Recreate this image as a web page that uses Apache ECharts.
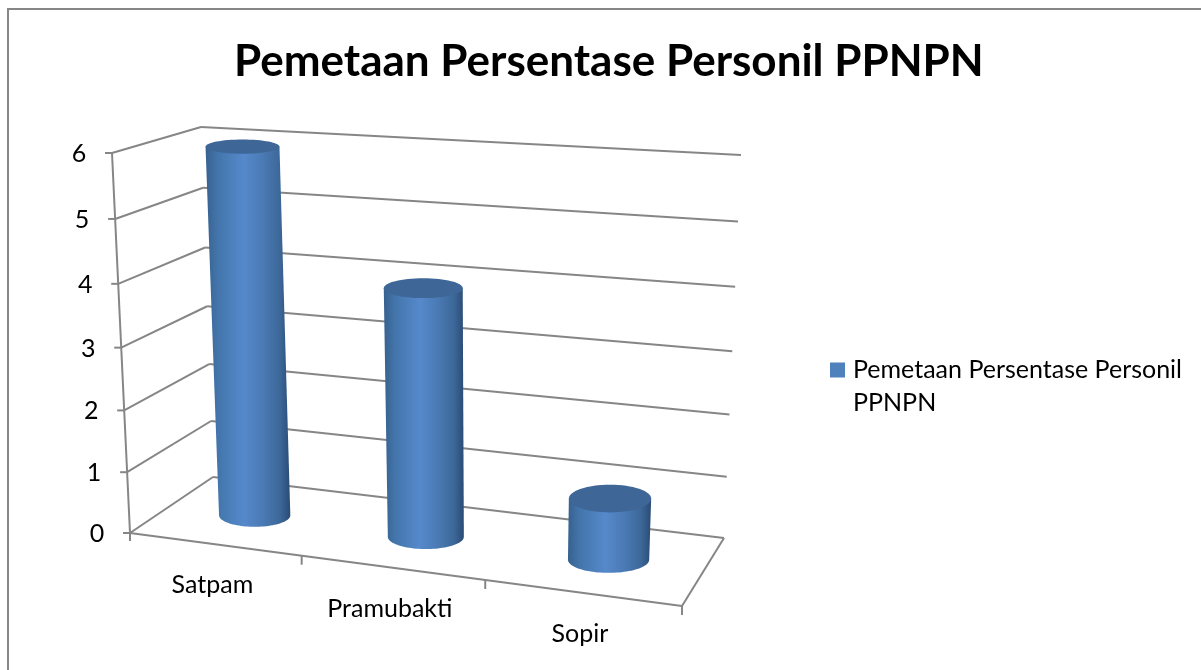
<!DOCTYPE html>
<html>
<head>
<meta charset="utf-8">
<style>html,body{margin:0;padding:0;background:#fff}#c{width:1201px;height:670px}</style>
<script src="https://cdn.jsdelivr.net/npm/echarts@6/dist/echarts.min.js"></script>
</head>
<body>
<div id="c"></div>
<script>
const chartTitle = 'Pemetaan Persentase Personil PPNPN';
const seriesName = 'Pemetaan Persentase Personil PPNPN';
const categories = ['Satpam', 'Pramubakti', 'Sopir'];
const values = [6, 4, 1];
const valueTicks = [0, 1, 2, 3, 4, 5, 6];

const FONT = 'Lato';
const GREY = '#868686';
const GRID = { left: 100, top: 100, width: 600, height: 400 };

// Corners of the floor and ceiling of the 3D box on the page: [front-left, front-right, back-right, back-left]
const FLOOR = [[130, 533], [682, 606], [724, 538], [213, 477]];
const CEIL = [[112, 153], [700, 188], [741, 155], [201, 127]];

function homography(q) {
  const [[x0, y0], [x1, y1], [x2, y2], [x3, y3]] = q;
  const dx1 = x1 - x2, dx2 = x3 - x2, sx = x0 - x1 + x2 - x3;
  const dy1 = y1 - y2, dy2 = y3 - y2, sy = y0 - y1 + y2 - y3;
  const den = dx1 * dy2 - dx2 * dy1;
  const g = (sx * dy2 - dx2 * sy) / den;
  const h = (dx1 * sy - sx * dy1) / den;
  const a = x1 - x0 + g * x1, b = x3 - x0 + h * x3;
  const d = y1 - y0 + g * y1, e = y3 - y0 + h * y3;
  return (u, v) => {
    const w = g * u + h * v + 1;
    return [(a * u + b * v + x0) / w, (d * u + e * v + y0) / w];
  };
}
const floorH = homography(FLOOR);
const ceilH = homography(CEIL);

// u: across categories 0..1, d: depth 0..1, t: height 0..1
function project(u, d, t) {
  const k = 1.05;
  const tt = t / (k - (k - 1) * t);
  const a = floorH(u, d), b = ceilH(u, d);
  return [a[0] + (b[0] - a[0]) * tt, a[1] + (b[1] - a[1]) * tt];
}
// Converts ECharts scale output (pixel in hidden grid) to box fractions
function fracs(px) {
  return [(px[0] - GRID.left) / GRID.width, (GRID.top + GRID.height - px[1]) / GRID.height];
}
const lineStyle = { stroke: GREY, lineWidth: 2, fill: null };
function seg(a, b) {
  return { type: 'line', shape: { x1: a[0], y1: a[1], x2: b[0], y2: b[1] }, style: lineStyle, silent: true };
}
function label(text, p) {
  return { type: 'text', style: { text, x: p[0], y: p[1], align: 'center', verticalAlign: 'middle',
    font: '25px ' + FONT, fill: '#000' }, silent: true };
}

function renderValueTick(params, api) {
  const v = api.value(0);
  const t = fracs(api.coord([0, v]))[1];
  const fl = project(0, 0, t), bl = project(0, 1, t), br = project(1, 1, t);
  const children = [
    seg(fl, bl), seg(bl, br),
    seg([fl[0] - 7, fl[1]], fl),
    label(String(valueTicks[params.dataIndex]), [fl[0] - 33, fl[1] + 1])
  ];
  if (v === 0) {
    children.push(seg(project(0, 0, 0), project(1, 0, 0)));
    children.push(seg(project(1, 0, 0), project(1, 1, 0)));
    children.push(seg(project(0, 0, 0), project(0, 0, 1)));
    children.push(seg(fl, [fl[0], fl[1] + 8]));
  }
  return { type: 'group', children };
}

function renderCategory(params, api) {
  const band = api.size([1, 0])[0] / GRID.width;
  const u = fracs(api.coord([params.dataIndex, 0]))[0];
  const tickP = project(u + band / 2, 0, 0);
  const mid = project(u, 0, 0);
  return { type: 'group', children: [
    seg(tickP, [tickP[0], tickP[1] + 9]),
    label(categories[params.dataIndex], [mid[0] - 2, mid[1] + 41])
  ] };
}

function renderCylinder(params, api) {
  const idx = api.value(0), val = api.value(1);
  const band = api.size([1, 0])[0] / GRID.width;
  const u = fracs(api.coord([idx, 0]))[0];
  const t = fracs(api.coord([idx, val]))[1];
  const RU = 0.215 * band, RD = 0.2, D = 0.48, SHIFT = 1.5;
  const ell = (tt, extra, dy) => {
    const c = project(u, D, tt);
    const l = project(u - RU, D, tt), r = project(u + RU, D, tt);
    const fr = project(u, D - RD, tt), bk = project(u, D + RD, tt);
    return { cx: c[0] + SHIFT, cy: c[1] + dy, rx: (r[0] - l[0]) / 2, ry: (fr[1] - bk[1]) / 2 + extra };
  };
  const bot = ell(0, 0, 0), top = ell(t, 1.8, 2);
  const pts = [[top.cx - top.rx, top.cy]];
  for (let i = 0; i <= 48; i++) {
    const a = Math.PI - Math.PI * i / 48;
    pts.push([bot.cx + bot.rx * Math.cos(a), bot.cy + bot.ry * Math.sin(a)]);
  }
  pts.push([top.cx + top.rx, top.cy]);
  const grad = { type: 'linear', x: 0, y: 0, x2: 1, y2: 0, colorStops: [
    { offset: 0, color: '#37618f' }, { offset: 0.14, color: '#4375ab' },
    { offset: 0.45, color: '#5689cb' }, { offset: 0.68, color: '#4a7ab4' },
    { offset: 0.88, color: '#3c6798' }, { offset: 1, color: '#2a4b75' } ] };
  return { type: 'group', children: [
    { type: 'polygon', shape: { points: pts }, style: { fill: grad } },
    { type: 'ellipse', shape: top, style: { fill: '#3e6696' } }
  ] };
}

const chart = echarts.init(document.getElementById('c'), null, { renderer: 'canvas' });
chart.setOption({
  animation: false,
  backgroundColor: '#fff',
  title: {
    text: chartTitle, left: 229, top: 35, padding: 5,
    textStyle: { fontFamily: FONT, fontWeight: 'bold', fontSize: 44, color: '#000' }
  },
  legend: {
    show: true, left: 830, top: 353, orient: 'vertical',
    data: [{ name: seriesName, icon: 'path://M0 0H15V15H0Z M18 47H18V47Z' }],
    itemWidth: 18, itemHeight: 47, padding: 0, selectedMode: false,
    formatter: () => 'Pemetaan Persentase Personil\nPPNPN',
    textStyle: { fontFamily: FONT, fontSize: 25, color: '#000', lineHeight: 33 }
  },
  grid: GRID,
  xAxis: { type: 'category', data: categories, show: false },
  yAxis: { type: 'value', min: 0, max: 6, interval: 1, show: false },
  graphic: [{ type: 'rect', shape: { x: 8, y: 9, width: 1300, height: 800 }, silent: true,
    style: { fill: 'none', stroke: GREY, lineWidth: 2 } }],
  series: [
    { type: 'custom', name: 'value ticks', coordinateSystem: 'cartesian2d', encode: { x: 1, y: 0 },
      data: valueTicks.map(v => [v, 0]), renderItem: renderValueTick, silent: true, z: 1 },
    { type: 'custom', name: 'categories', coordinateSystem: 'cartesian2d',
      data: categories.map((c, i) => [i, 0]), renderItem: renderCategory, silent: true, z: 1 },
    { type: 'custom', name: seriesName, coordinateSystem: 'cartesian2d', itemStyle: { color: '#4f81bd' },
      data: values.map((v, i) => [i, v]), renderItem: renderCylinder, z: 2 }
  ]
});
</script>
</body>
</html>
